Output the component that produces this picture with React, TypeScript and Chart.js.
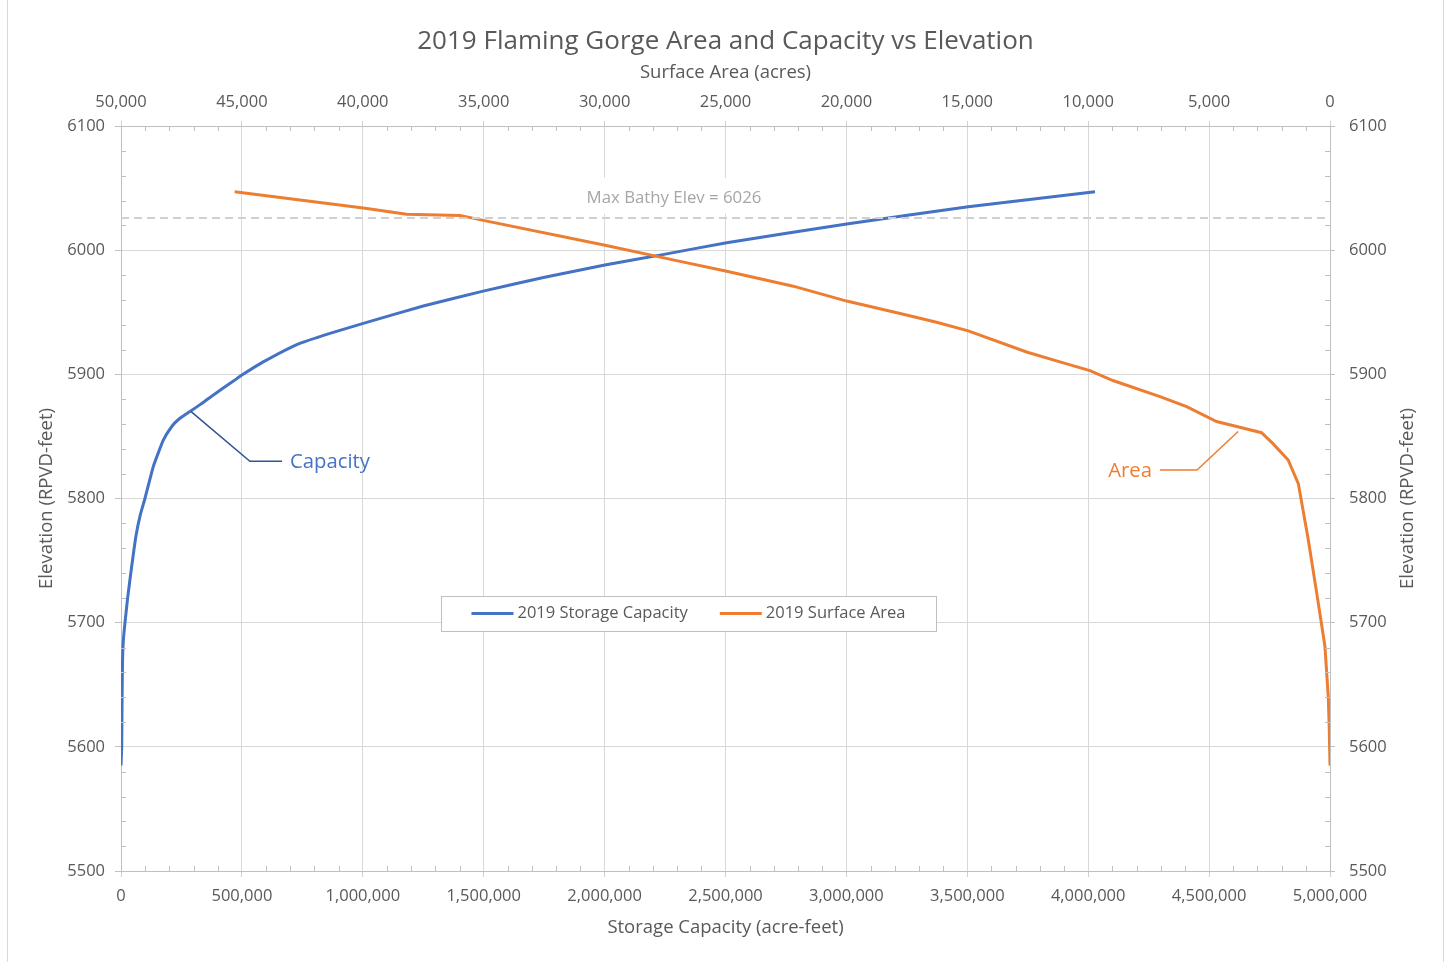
import React, { useEffect, useRef } from 'react';
import { Chart, registerables } from 'chart.js';

Chart.register(...registerables);

// ---------- data ----------
const capacityElevation = [5585, 5600, 5640, 5670, 5685, 5700, 5720, 5745, 5770, 5787, 5800, 5826, 5847, 5858, 5864, 5870, 5876, 5882, 5895, 5900, 5910, 5924, 5933, 5941, 5955, 5967, 5978, 5988, 5996, 6006, 6021, 6035, 6047];
const capacityAcreFeet = [0, 3000, 4500, 6500, 9500, 16500, 27500, 44000, 62000, 80000, 99000, 134000, 175000, 210000, 240000, 285000, 330000, 372000, 468000, 505000, 588000, 727000, 864000, 1002000, 1250000, 1498000, 1747000, 2001000, 2229000, 2505000, 3001000, 3504000, 4028000];

const areaElevation = [6047, 6034, 6029, 6028, 6024, 6004, 5991, 5983, 5971, 5959, 5949, 5942, 5935, 5918, 5910, 5903, 5895, 5882, 5874, 5862, 5858, 5853, 5844, 5831, 5812, 5767, 5724, 5681, 5640, 5614, 5585];
const areaAcres = [45300, 39980, 38190, 35980, 35020, 29980, 26880, 24950, 22200, 19990, 17780, 16270, 14960, 12550, 11170, 9930, 8980, 7030, 5930, 4690, 3860, 2830, 2350, 1730, 1310, 900, 550, 210, 70, 30, 0];

const maxBathyElevation = 6026;
const maxBathyLabel = 'Max Bathy Elev = 6026';
const maxBathyLabelCapacity = 2287000;

const capacityRange = [0, 5000000];
const capacityStep = 500000;
const areaRange = [0, 50000];
const areaStep = 5000;
const elevationRange = [5500, 6100];
const elevationStep = 100;

const seriesLabels = ['2019 Storage Capacity', '2019 Surface Area'];
const seriesColors = ['#4472C4', '#ED7D31'];

const titleText = '2019 Flaming Gorge Area and Capacity vs Elevation';
const bottomAxisTitle = 'Storage Capacity (acre-feet)';
const topAxisTitle = 'Surface Area (acres)';
const elevationAxisTitle = 'Elevation (RPVD-feet)';

// callouts (data units)
const capacityCallout = { label: 'Capacity', anchor: [290000, 5870], elbow: [533000, 5830], end: [666000, 5830] };
const areaCallout = { label: 'Area', anchor: [3800, 5854], elbow: [5500, 5823], end: [7030, 5823] };

// ---------- style ----------
const FONT = '"Open Sans", sans-serif';
const TEXT = '#595959';
const AXIS = '#bfbfbf';
const GRID = '#d9d9d9';
const TICK_SIZE = 16.5;
const AXIS_TITLE_SIZE = 18.5;

const fmt = (v: number) => Number(v).toLocaleString('en-US');

const overlayPlugin = {
  id: 'overlay',
  beforeDraw(chart: any) {
    const { ctx, width, height } = chart;
    ctx.save();
    ctx.fillStyle = '#ffffff';
    ctx.fillRect(0, 0, width, height);
    ctx.restore();
  },
  beforeDatasetsDraw(chart: any) {
    const { ctx } = chart;
    const x = chart.scales.x.getPixelForValue(maxBathyLabelCapacity);
    const y = chart.scales.y.getPixelForValue(maxBathyElevation);
    ctx.save();
    ctx.font = `16.8px ${FONT}`;
    const w = ctx.measureText(maxBathyLabel).width;
    ctx.fillStyle = '#ffffff';
    ctx.fillRect(x - w / 2 - 8, y - 40, w + 16, 36);
    ctx.fillStyle = '#a6a6a6';
    ctx.textAlign = 'center';
    ctx.textBaseline = 'middle';
    ctx.fillText(maxBathyLabel, x, y - 20);
    ctx.restore();
  },
  afterDraw(chart: any) {
    const { ctx, chartArea } = chart;
    const sx = chart.scales.x;
    const sx2 = chart.scales.x2;
    const sy = chart.scales.y;
    const sy2 = chart.scales.y2;
    const { left, right, top, bottom } = chartArea;
    ctx.save();

    // minor ticks
    ctx.strokeStyle = AXIS;
    ctx.lineWidth = 1;
    ctx.beginPath();
    for (let v = capacityRange[0]; v <= capacityRange[1]; v += capacityStep / 5) {
      if (v % capacityStep === 0) continue;
      const p = Math.round(sx.getPixelForValue(v)) + 0.5;
      ctx.moveTo(p, bottom);
      ctx.lineTo(p, bottom - 5);
    }
    for (let v = areaRange[0]; v <= areaRange[1]; v += areaStep / 5) {
      if (v % areaStep === 0) continue;
      const p = Math.round(sx2.getPixelForValue(v)) + 0.5;
      ctx.moveTo(p, top);
      ctx.lineTo(p, top + 5);
    }
    for (let v = elevationRange[0]; v <= elevationRange[1]; v += elevationStep / 5) {
      if (v % elevationStep === 0) continue;
      const p = Math.round(sy.getPixelForValue(v)) + 0.5;
      ctx.moveTo(left, p);
      ctx.lineTo(left + 5, p);
      const p2 = Math.round(sy2.getPixelForValue(v)) + 0.5;
      ctx.moveTo(right, p2);
      ctx.lineTo(right - 5, p2);
    }
    ctx.stroke();

    // main title
    ctx.fillStyle = TEXT;
    ctx.textAlign = 'center';
    ctx.textBaseline = 'middle';
    ctx.font = `26px ${FONT}`;
    ctx.fillText(titleText, (left + right) / 2, 42);

    // elevation axis titles (both read bottom-to-top)
    ctx.font = `${AXIS_TITLE_SIZE}px ${FONT}`;
    const midY = (top + bottom) / 2;
    ctx.save();
    ctx.translate(47, midY);
    ctx.rotate(-Math.PI / 2);
    ctx.fillText(elevationAxisTitle, 0, 0);
    ctx.restore();
    ctx.save();
    ctx.translate(1408, midY);
    ctx.rotate(-Math.PI / 2);
    ctx.fillText(elevationAxisTitle, 0, 0);
    ctx.restore();

    // callouts
    const drawCallout = (c: any, xs: any, color: string, lineColor: string, align: string) => {
      const a = [xs.getPixelForValue(c.anchor[0]), sy.getPixelForValue(c.anchor[1])];
      const e = [xs.getPixelForValue(c.elbow[0]), sy.getPixelForValue(c.elbow[1])];
      const n = [xs.getPixelForValue(c.end[0]), sy.getPixelForValue(c.end[1])];
      ctx.strokeStyle = lineColor;
      ctx.lineWidth = 1.5;
      ctx.beginPath();
      ctx.moveTo(a[0], a[1]);
      ctx.lineTo(e[0], e[1]);
      ctx.lineTo(n[0], n[1]);
      ctx.stroke();
      ctx.fillStyle = color;
      ctx.font = `20.3px ${FONT}`;
      ctx.textBaseline = 'middle';
      ctx.textAlign = align;
      const dx = n[0] > e[0] ? 8 : -8;
      ctx.fillText(c.label, n[0] + dx, n[1] + 1);
    };
    drawCallout(capacityCallout, sx, '#4472C4', '#2F5597', 'left');
    drawCallout(areaCallout, sx2, '#ED7D31', '#ED7D31', 'right');

    // legend
    const box = { x: 441, y: 596, w: 495, h: 35 };
    ctx.fillStyle = '#ffffff';
    ctx.fillRect(box.x, box.y, box.w, box.h);
    ctx.strokeStyle = AXIS;
    ctx.lineWidth = 1;
    ctx.strokeRect(box.x + 0.5, box.y + 0.5, box.w, box.h);
    ctx.font = `16.5px ${FONT}`;
    const sample = 42;
    const gapText = 4;
    const gapItem = 32;
    const widths = seriesLabels.map((l) => ctx.measureText(l).width);
    const total = sample * 2 + gapText * 2 + widths[0] + widths[1] + gapItem;
    let cx = box.x + (box.w - total) / 2;
    const cy = box.y + box.h / 2;
    ctx.textAlign = 'left';
    ctx.textBaseline = 'middle';
    seriesLabels.forEach((l, i) => {
      ctx.strokeStyle = seriesColors[i];
      ctx.lineWidth = 3;
      ctx.beginPath();
      ctx.moveTo(cx, cy);
      ctx.lineTo(cx + sample, cy);
      ctx.stroke();
      cx += sample + gapText;
      ctx.fillStyle = TEXT;
      ctx.fillText(l, cx, cy);
      cx += widths[i] + gapItem;
    });

    ctx.restore();
  },
};

export default function App() {
  const ref = useRef<HTMLCanvasElement | null>(null);

  useEffect(() => {
    if (!ref.current) return;
    const chart = new Chart(ref.current, {
      type: 'scatter',
      data: {
        datasets: [
          {
            label: 'Max Bathy Elev',
            data: capacityRange.map((c) => ({ x: c, y: maxBathyElevation })),
            xAxisID: 'x',
            yAxisID: 'y',
            showLine: true,
            borderColor: '#d0d0d0',
            borderWidth: 2,
            borderDash: [8, 5],
            pointRadius: 0,
            order: 0,
          },
          {
            label: seriesLabels[0],
            data: capacityAcreFeet.map((c, i) => ({ x: c, y: capacityElevation[i] })),
            xAxisID: 'x',
            yAxisID: 'y',
            showLine: true,
            borderColor: seriesColors[0],
            borderWidth: 3,
            pointRadius: 0,
            tension: 0.15,
            order: 2,
          },
          {
            label: seriesLabels[1],
            data: areaAcres.map((a, i) => ({ x: a, y: areaElevation[i] })),
            xAxisID: 'x2',
            yAxisID: 'y',
            showLine: true,
            borderColor: seriesColors[1],
            borderWidth: 3,
            pointRadius: 0,
            tension: 0,
            order: 1,
          },
        ],
      },
      options: {
        animation: false,
        responsive: true,
        maintainAspectRatio: false,
        layout: { padding: 0 },
        plugins: {
          legend: { display: false },
          title: { display: false },
          tooltip: { enabled: false },
        },
        scales: {
          x: {
            type: 'linear',
            position: 'bottom',
            min: capacityRange[0],
            max: capacityRange[1],
            ticks: {
              stepSize: capacityStep,
              color: TEXT,
              font: { family: FONT, size: TICK_SIZE },
              padding: 9,
              maxRotation: 0,
              callback: (v: any) => fmt(v),
            },
            grid: { color: GRID, lineWidth: 1, tickLength: 6, tickColor: '#d0d0d0' },
            border: { color: AXIS, width: 1 },
            title: {
              display: true,
              text: bottomAxisTitle,
              color: TEXT,
              font: { family: FONT, size: AXIS_TITLE_SIZE },
              padding: { top: 0, bottom: 23 },
            },
            afterFit: (s: any) => { s.height = 91; },
          },
          x2: {
            type: 'linear',
            position: 'top',
            reverse: true,
            min: areaRange[0],
            max: areaRange[1],
            ticks: {
              stepSize: areaStep,
              color: TEXT,
              font: { family: FONT, size: TICK_SIZE },
              padding: 9,
              maxRotation: 0,
              callback: (v: any) => fmt(v),
            },
            grid: { drawOnChartArea: false, drawTicks: true, tickLength: 5, tickColor: '#d0d0d0' },
            border: { color: AXIS, width: 1 },
            title: {
              display: true,
              text: topAxisTitle,
              color: TEXT,
              font: { family: FONT, size: AXIS_TITLE_SIZE },
              padding: { top: 62, bottom: 0 },
            },
            afterFit: (s: any) => { s.height = 126; },
          },
          y: {
            type: 'linear',
            position: 'left',
            min: elevationRange[0],
            max: elevationRange[1],
            ticks: {
              stepSize: elevationStep,
              color: TEXT,
              font: { family: FONT, size: TICK_SIZE },
              padding: 10,
              callback: (v: any) => String(v),
            },
            grid: { color: GRID, lineWidth: 1, tickLength: 6, tickColor: AXIS },
            border: { color: AXIS, width: 1 },
            afterFit: (s: any) => { s.width = 121; },
          },
          y2: {
            type: 'linear',
            position: 'right',
            min: elevationRange[0],
            max: elevationRange[1],
            ticks: {
              stepSize: elevationStep,
              color: TEXT,
              font: { family: FONT, size: TICK_SIZE },
              padding: 14,
              callback: (v: any) => String(v),
            },
            grid: { drawOnChartArea: false, drawTicks: true, tickLength: 5, tickColor: AXIS },
            border: { color: AXIS, width: 1 },
            afterFit: (s: any) => { s.width = 119; },
          },
        },
      } as any,
      plugins: [overlayPlugin as any],
    });
    return () => chart.destroy();
  }, []);

  return (
    <div style={{ position: 'absolute', left: 0, top: 0, width: 1449, height: 962, background: '#fff' }}>
      <canvas ref={ref} />
      <div
        style={{
          position: 'absolute',
          left: 7,
          top: -1,
          width: 1435,
          height: 962,
          border: '1px solid #d9d9d9',
          pointerEvents: 'none',
        }}
      />
    </div>
  );
}
